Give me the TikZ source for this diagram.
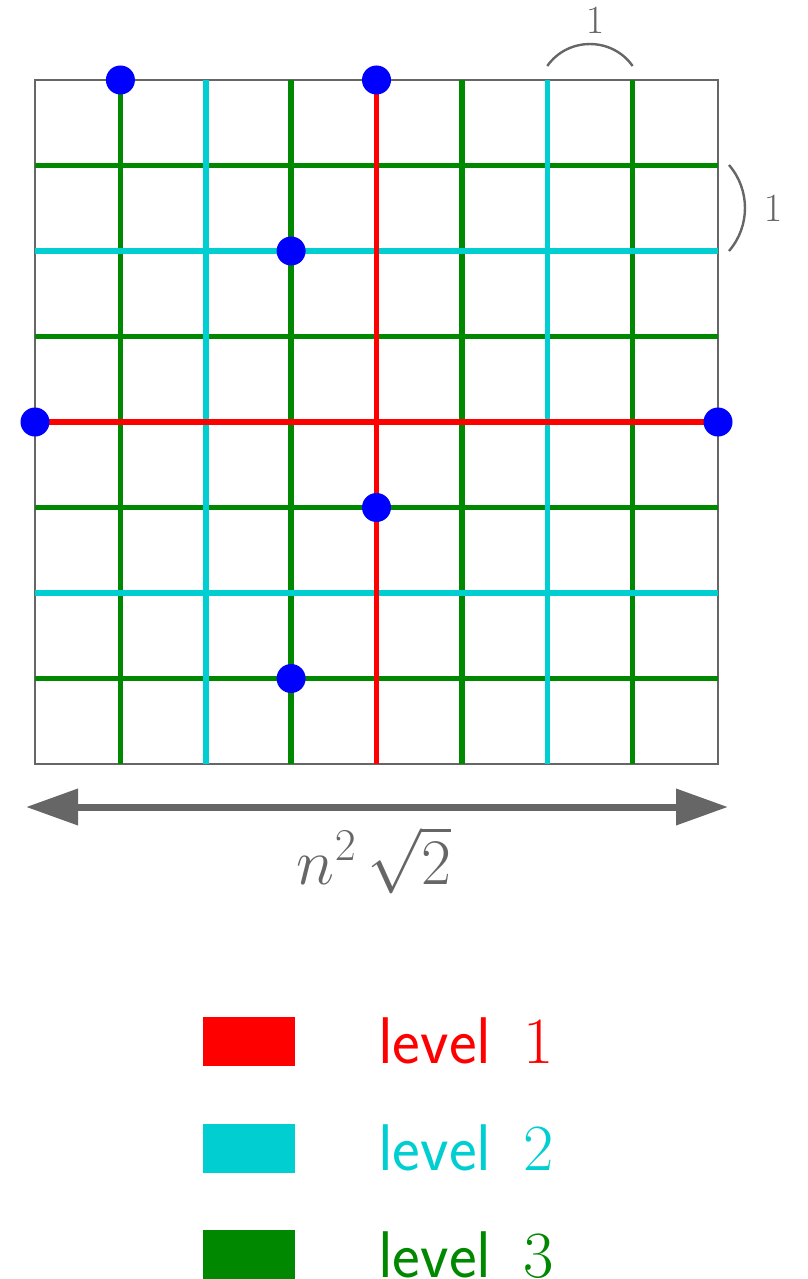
\RequirePackage{fix-cm}
\documentclass[tikz,border=0pt]{standalone}
\usepackage{fontspec}
\usetikzlibrary{arrows.meta}
\definecolor{lvA}{RGB}{255,0,0}
\definecolor{lvB}{RGB}{0,206,209}
\definecolor{lvC}{RGB}{0,136,0}
\definecolor{dotc}{RGB}{0,0,255}
\definecolor{framec}{RGB}{102,102,102}
\begin{document}
\begin{tikzpicture}[x=1pt,y=-1pt,
  gridline/.style={line width=5.5pt},
  framebox/.style={draw=framec,line width=2pt},
  dotnode/.style={circle,fill=dotc,inner sep=0pt,minimum size=29pt},
  bracecurve/.style={draw=framec,line width=2.4pt},
  lbl/.style={text=framec,inner sep=0pt,anchor=base},
  legrect/.style={inner sep=0pt,minimum width=92pt,minimum height=49pt},
  legtext/.style={inner sep=0pt,anchor=base west,font=\fontsize{66}{72}\selectfont}]
\useasboundingbox (0,0) rectangle (807,1279);
% frame
\draw[framebox] (35,80) rectangle (718,764);
% level 3 (green)
\foreach \i in {1,3,5,7}{
  \draw[gridline,lvC] ({35+85.375*\i},80) -- ({35+85.375*\i},764);
  \draw[gridline,lvC] (35,{80+85.5*\i}) -- (718,{80+85.5*\i});
}
% level 2 (cyan)
\foreach \i in {2,6}{
  \draw[gridline,lvB] ({35+85.375*\i},80) -- ({35+85.375*\i},764);
  \draw[gridline,lvB] (35,{80+85.5*\i}) -- (718,{80+85.5*\i});
}
% level 1 (red)
\draw[gridline,lvA] (376.5,80) -- (376.5,764);
\draw[gridline,lvA] (35,422) -- (718,422);
% dots
\node[dotnode] (p1) at (120.4,80) {};
\node[dotnode] (p2) at (376.5,80) {};
\node[dotnode] (p3) at (291.1,251) {};
\node[dotnode] (p4) at (35,422) {};
\node[dotnode] (p5) at (718,422) {};
\node[dotnode] (p6) at (376.5,507.5) {};
\node[dotnode] (p7) at (291.1,678.5) {};
% unit marks
\coordinate (ta) at (547.25,66);
\coordinate (tb) at (632.6,66);
\draw[bracecurve] (ta) .. controls (567.9,36.7) and (612,36.7) .. (tb);
\node[lbl,font=\fontsize{40}{44}\selectfont] (one1) at (595,34) {$1$};
\coordinate (ra) at (729,165);
\coordinate (rb) at (729,251);
\draw[bracecurve] (ra) .. controls (750.3,189.7) and (750.3,226.3) .. (rb);
\node[lbl,font=\fontsize{40}{44}\selectfont] (one2) at (773,221) {$1$};
% width arrow
\coordinate (al) at (26,807);
\coordinate (ar) at (728,807);
\draw[framec,line width=7pt,{Triangle[length=52pt,width=35pt]}-{Triangle[length=52pt,width=35pt]}] (al) -- (ar);
\node[lbl,font=\fontsize{65}{72}\selectfont] (wlab) at (374,884) {$n^2\,\sqrt{2}$};
% legend
\node[legrect,fill=lvA] (r1) at (248.5,1041.5) {};
\node[legrect,fill=lvB] (r2) at (248.5,1148) {};
\node[legrect,fill=lvC] (r3) at (248.5,1254.5) {};
\node[legtext,text=lvA] (t1) at (378,1063) {\textsf{level}\hspace{12pt} $1$};
\node[legtext,text=lvB] (t2) at (378,1170) {\textsf{level}\hspace{12pt} $2$};
\node[legtext,text=lvC] (t3) at (378,1277) {\textsf{level}\hspace{12pt} $3$};
\end{tikzpicture}
\end{document}
